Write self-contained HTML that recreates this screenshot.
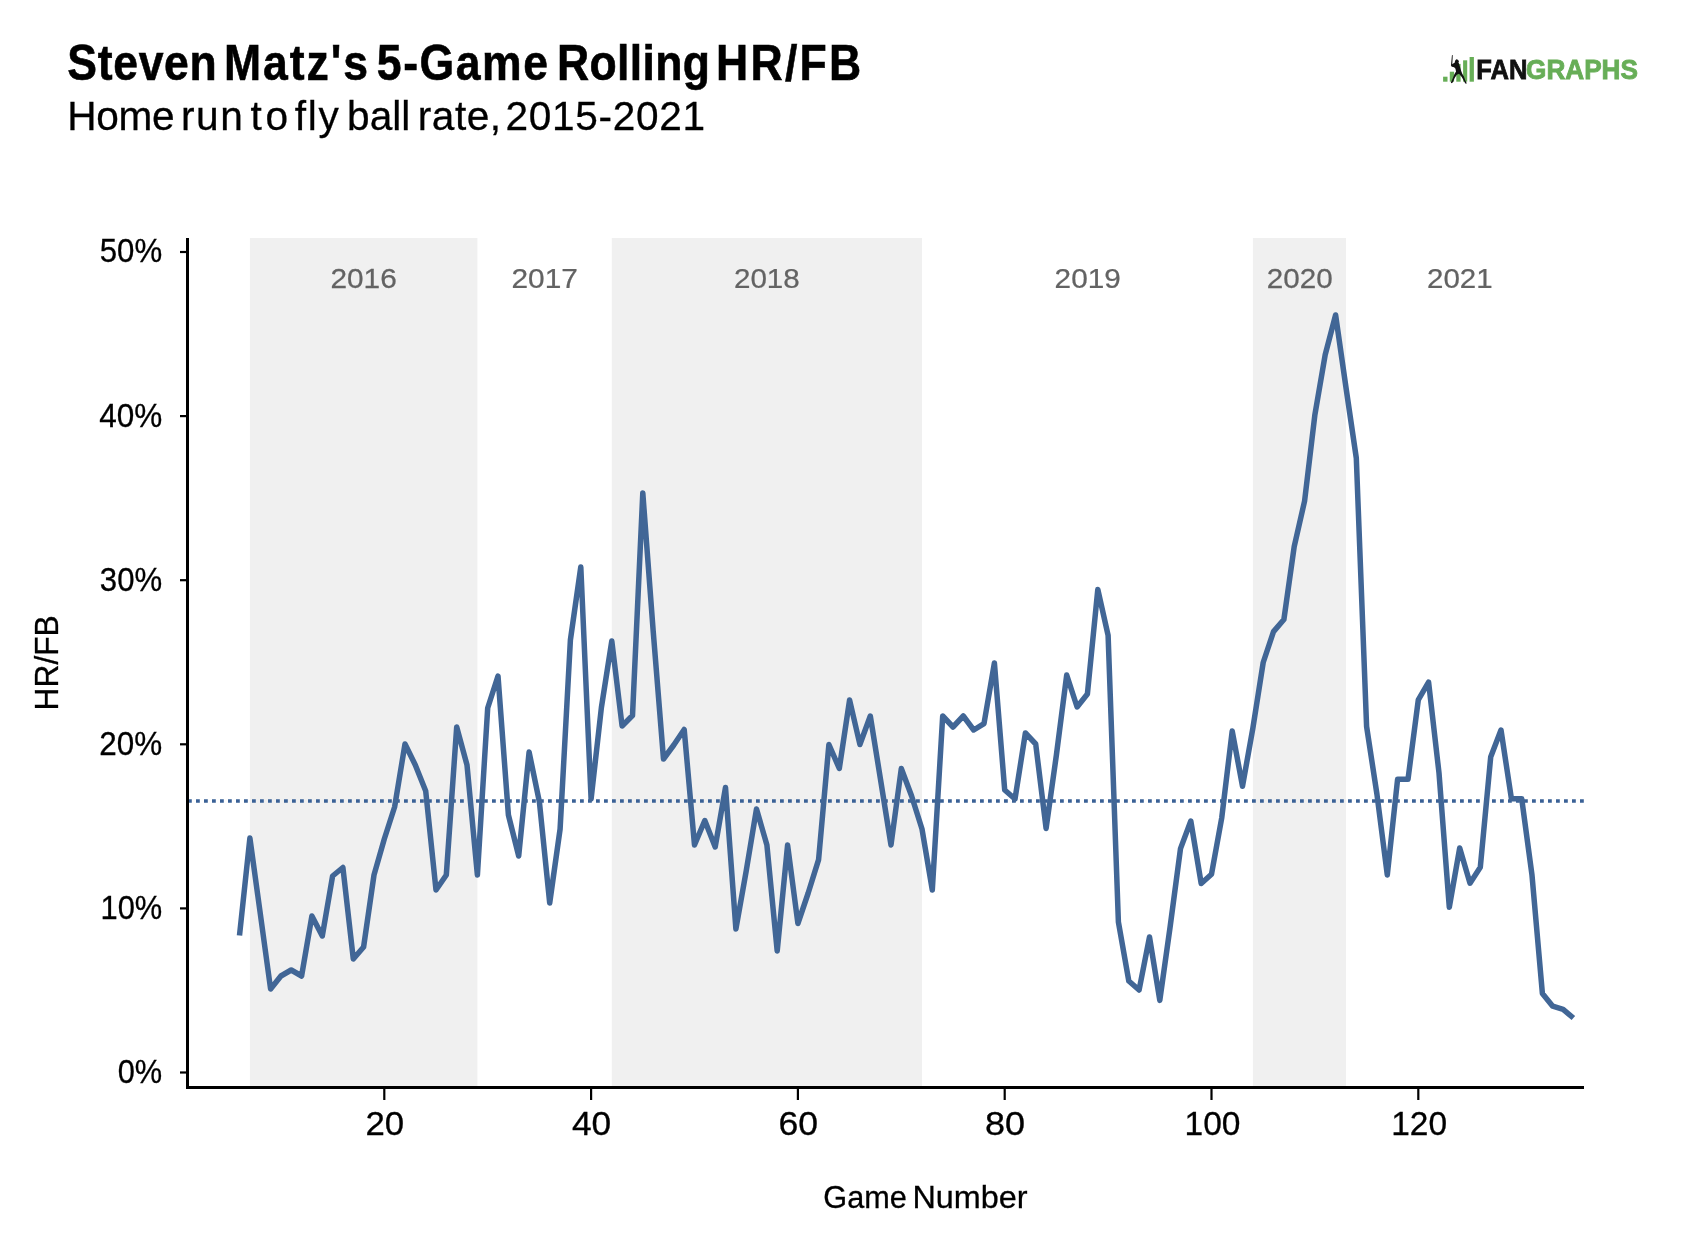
<!DOCTYPE html>
<html><head><meta charset="utf-8"><style>
html,body{margin:0;padding:0;background:#fff;}
body{width:1690px;height:1252px;overflow:hidden;position:relative;}
svg{position:absolute;left:0;top:0;will-change:transform;}
text{font-family:"Liberation Sans",sans-serif;}
</style></head><body>
<svg width="1690" height="1252" viewBox="0 0 1690 1252">
<rect x="0" y="0" width="1690" height="1252" fill="#fff"/>
<text transform="translate(67.36,80.20) scale(0.8800,1)" font-size="50.6" font-weight="bold" fill="#000" stroke="#000" stroke-width="0.6" letter-spacing="0.763">Steven</text>
<text transform="translate(224.11,80.20) scale(0.8800,1)" font-size="50.6" font-weight="bold" fill="#000" stroke="#000" stroke-width="0.6" letter-spacing="2.187">Matz's</text>
<text transform="translate(376.86,80.20) scale(0.8800,1)" font-size="50.6" font-weight="bold" fill="#000" stroke="#000" stroke-width="0.6" letter-spacing="1.750">5-Game</text>
<text transform="translate(557.11,80.20) scale(0.8800,1)" font-size="50.6" font-weight="bold" fill="#000" stroke="#000" stroke-width="0.6" letter-spacing="0.371">Rolling</text>
<text transform="translate(716.11,80.20) scale(0.8800,1)" font-size="50.6" font-weight="bold" fill="#000" stroke="#000" stroke-width="0.6" letter-spacing="2.547">HR/FB</text>
<text transform="translate(67.25,129.70) scale(1.0000,1)" font-size="40.6" fill="#000" stroke="#000" stroke-width="0.3" letter-spacing="-0.308">Home</text>
<text transform="translate(181.06,129.70) scale(1.0000,1)" font-size="40.6" fill="#000" stroke="#000" stroke-width="0.3" letter-spacing="1.506">run</text>
<text transform="translate(250.49,129.70) scale(1.0000,1)" font-size="40.6" fill="#000" stroke="#000" stroke-width="0.3" letter-spacing="3.632">to</text>
<text transform="translate(294.79,129.70) scale(1.0000,1)" font-size="40.6" fill="#000" stroke="#000" stroke-width="0.3" letter-spacing="1.756">fly</text>
<text transform="translate(347.06,129.70) scale(1.0000,1)" font-size="40.6" fill="#000" stroke="#000" stroke-width="0.3" letter-spacing="0.015">ball</text>
<text transform="translate(417.86,129.70) scale(1.0000,1)" font-size="40.6" fill="#000" stroke="#000" stroke-width="0.3" letter-spacing="0.473">rate,</text>
<text transform="translate(505.57,129.70) scale(1.0000,1)" font-size="40.6" fill="#000" stroke="#000" stroke-width="0.3" letter-spacing="0.674">2015-2021</text>

<rect x="249.9" y="238" width="227.5" height="848" fill="#f0f0f0"/>
<rect x="611.8" y="238" width="310.2" height="848" fill="#f0f0f0"/>
<rect x="1252.9" y="238" width="93.1" height="848" fill="#f0f0f0"/>

<text transform="translate(330.41,287.50) scale(1.0724,1)" font-size="27.8" fill="#636363" stroke="#636363" stroke-width="0.25">2016</text>
<text transform="translate(511.51,287.50) scale(1.0749,1)" font-size="27.8" fill="#636363" stroke="#636363" stroke-width="0.25">2017</text>
<text transform="translate(733.92,287.50) scale(1.0648,1)" font-size="27.8" fill="#636363" stroke="#636363" stroke-width="0.25">2018</text>
<text transform="translate(1054.61,287.50) scale(1.0707,1)" font-size="27.8" fill="#636363" stroke="#636363" stroke-width="0.25">2019</text>
<text transform="translate(1266.72,287.50) scale(1.0665,1)" font-size="27.8" fill="#636363" stroke="#636363" stroke-width="0.25">2020</text>
<text transform="translate(1427.02,287.50) scale(1.0614,1)" font-size="27.8" fill="#636363" stroke="#636363" stroke-width="0.25">2021</text>

<line x1="188" y1="801" x2="1584" y2="801" stroke="#3a6196" stroke-width="3.7" stroke-dasharray="3.8 4.2"/>
<polyline points="239.5,935.5 249.9,838.0 260.2,913.0 270.6,989.0 280.9,976.0 291.2,970.0 301.6,976.0 311.9,916.0 322.3,936.0 332.6,876.0 342.9,867.5 353.3,959.0 363.6,947.0 374.0,875.0 384.3,839.0 394.6,807.0 405.0,744.0 415.3,765.0 425.7,791.0 436.0,890.0 446.3,875.0 456.7,727.0 467.0,765.0 477.4,875.0 487.7,708.0 498.0,676.0 508.4,815.0 518.7,856.0 529.1,752.0 539.4,802.0 549.7,903.0 560.1,829.0 570.4,640.0 580.8,567.0 591.1,799.0 601.4,707.5 611.8,641.0 622.1,726.0 632.5,715.5 642.8,493.0 653.1,630.0 663.5,759.0 673.8,745.0 684.2,729.5 694.5,845.0 704.8,820.5 715.2,847.0 725.5,787.5 735.9,929.0 746.2,871.0 756.5,809.0 766.9,845.0 777.2,951.0 787.6,845.0 797.9,923.5 808.2,893.0 818.6,859.6 828.9,744.5 839.3,768.5 849.6,700.0 859.9,744.5 870.3,716.0 880.6,780.0 891.0,845.0 901.3,768.5 911.6,796.0 922.0,829.0 932.3,890.0 942.7,716.0 953.0,727.0 963.3,716.0 973.7,730.0 984.0,723.6 994.4,663.0 1004.7,790.0 1015.0,799.0 1025.4,733.0 1035.7,744.0 1046.1,828.4 1056.4,755.0 1066.7,675.0 1077.1,707.0 1087.4,694.0 1097.8,589.4 1108.1,635.4 1118.4,922.0 1128.8,981.0 1139.1,990.0 1149.5,937.0 1159.8,1000.4 1170.1,927.0 1180.5,848.6 1190.8,821.0 1201.2,883.5 1211.5,874.3 1221.8,817.4 1232.2,731.0 1242.5,786.2 1252.9,728.0 1263.2,662.5 1273.5,631.6 1283.9,619.5 1294.2,546.6 1304.6,501.0 1314.9,414.7 1325.2,354.7 1335.6,315.0 1345.9,387.0 1356.3,458.0 1366.6,726.5 1376.9,794.0 1387.3,875.0 1397.6,779.2 1408.0,779.3 1418.3,699.8 1428.6,682.2 1439.0,773.0 1449.3,907.2 1459.7,848.0 1470.0,883.2 1480.3,867.3 1490.7,757.0 1501.0,730.0 1511.4,798.7 1521.7,798.7 1532.0,875.2 1542.4,993.5 1552.7,1006.2 1563.1,1009.4 1573.4,1018.0" fill="none" stroke="#416696" stroke-width="5.5" stroke-linejoin="round" stroke-linecap="butt"/>
<line x1="187.5" y1="238" x2="187.5" y2="1089" stroke="#000" stroke-width="3"/>
<line x1="186" y1="1087.5" x2="1584" y2="1087.5" stroke="#000" stroke-width="3"/>
<line x1="180" y1="1072.50" x2="187" y2="1072.50" stroke="#000" stroke-width="2.2"/>
<text transform="translate(117.67,1082.90) scale(0.9334,1)" font-size="33" fill="#000" stroke="#000" stroke-width="0.3">0%</text>
<line x1="180" y1="908.40" x2="187" y2="908.40" stroke="#000" stroke-width="2.2"/>
<text transform="translate(100.49,918.80) scale(0.9347,1)" font-size="33" fill="#000" stroke="#000" stroke-width="0.3">10%</text>
<line x1="180" y1="744.30" x2="187" y2="744.30" stroke="#000" stroke-width="2.2"/>
<text transform="translate(99.33,754.70) scale(0.9526,1)" font-size="33" fill="#000" stroke="#000" stroke-width="0.3">20%</text>
<line x1="180" y1="580.20" x2="187" y2="580.20" stroke="#000" stroke-width="2.2"/>
<text transform="translate(99.85,590.60) scale(0.9445,1)" font-size="33" fill="#000" stroke="#000" stroke-width="0.3">30%</text>
<line x1="180" y1="416.10" x2="187" y2="416.10" stroke="#000" stroke-width="2.2"/>
<text transform="translate(99.21,426.50) scale(0.9544,1)" font-size="33" fill="#000" stroke="#000" stroke-width="0.3">40%</text>
<line x1="180" y1="252.00" x2="187" y2="252.00" stroke="#000" stroke-width="2.2"/>
<text transform="translate(99.75,262.40) scale(0.9461,1)" font-size="33" fill="#000" stroke="#000" stroke-width="0.3">50%</text>

<line x1="384.3" y1="1088" x2="384.3" y2="1100" stroke="#000" stroke-width="2.2"/>
<text transform="translate(365.46,1134.80) scale(1.0547,1)" font-size="33" fill="#000" stroke="#000" stroke-width="0.3">20</text>
<line x1="591.1" y1="1088" x2="591.1" y2="1100" stroke="#000" stroke-width="2.2"/>
<text transform="translate(571.92,1134.80) scale(1.0700,1)" font-size="33" fill="#000" stroke="#000" stroke-width="0.3">40</text>
<line x1="797.9" y1="1088" x2="797.9" y2="1100" stroke="#000" stroke-width="2.2"/>
<text transform="translate(778.42,1134.80) scale(1.0784,1)" font-size="33" fill="#000" stroke="#000" stroke-width="0.3">60</text>
<line x1="1004.7" y1="1088" x2="1004.7" y2="1100" stroke="#000" stroke-width="2.2"/>
<text transform="translate(985.08,1134.80) scale(1.0909,1)" font-size="33" fill="#000" stroke="#000" stroke-width="0.3">80</text>
<line x1="1211.5" y1="1088" x2="1211.5" y2="1100" stroke="#000" stroke-width="2.2"/>
<text transform="translate(1184.48,1134.80) scale(1.0166,1)" font-size="33" fill="#000" stroke="#000" stroke-width="0.3">100</text>
<line x1="1418.3" y1="1088" x2="1418.3" y2="1100" stroke="#000" stroke-width="2.2"/>
<text transform="translate(1391.19,1134.80) scale(1.0147,1)" font-size="33" fill="#000" stroke="#000" stroke-width="0.3">120</text>

<text transform="translate(58.20,707.90) rotate(-90) translate(-2.54,0) scale(0.9619,1)" font-size="33" fill="#000" stroke="#000" stroke-width="0.3">HR/FB</text>
<text transform="translate(823.37,1207.50) scale(0.9723,1)" font-size="31.5" fill="#000" stroke="#000" stroke-width="0.3">Game</text>
<text transform="translate(912.51,1207.50) scale(1.0276,1)" font-size="31.5" fill="#000" stroke="#000" stroke-width="0.3">Number</text>

<g fill="#67ae57">
<rect x="1443.1" y="76.7" width="4.4" height="5"/>
<rect x="1449.8" y="71.7" width="4.3" height="10"/>
<rect x="1456.3" y="63.9" width="4.3" height="17.8"/>
<rect x="1463.1" y="60.3" width="4.1" height="21.4"/>
<rect x="1469.6" y="57.0" width="4.3" height="24.7"/>
</g>
<path d="M1451.95,55.26 L1452.76,55.12 L1452.22,65.03 L1451.0,65.03 Z" fill="#111"/>
<path d="M1451.40,64.76 L1452.76,63.68 L1454.66,62.86 L1455.07,60.69 L1456.29,59.33 L1457.92,59.74 L1459.01,61.23 L1458.46,62.32 L1459.01,63.68 L1460.09,67.20 L1461.18,71.01 L1462.26,73.72 L1463.89,76.44 L1465.25,80.24 L1466.88,83.50 L1465.25,83.50 L1463.89,80.78 L1461.72,76.98 L1459.01,73.72 L1456.83,74.81 L1454.66,78.07 L1452.76,82.41 L1451.13,83.22 L1450.86,82.41 L1452.49,78.88 L1454.39,74.26 L1456.02,71.55 L1455.48,68.83 L1454.12,67.21 L1451.95,66.66 L1450.86,65.85 Z" fill="#111"/>
<text transform="translate(1476.24,79.30) scale(0.9148,1)" font-size="28" font-weight="bold" fill="#111" stroke="#111" stroke-width="0.8">FAN</text>
<text transform="translate(1526.05,79.30) scale(0.9345,1)" font-size="28" font-weight="bold" fill="#67ae57" stroke="#67ae57" stroke-width="0.9">GRAPHS</text>

</svg>
</body></html>
